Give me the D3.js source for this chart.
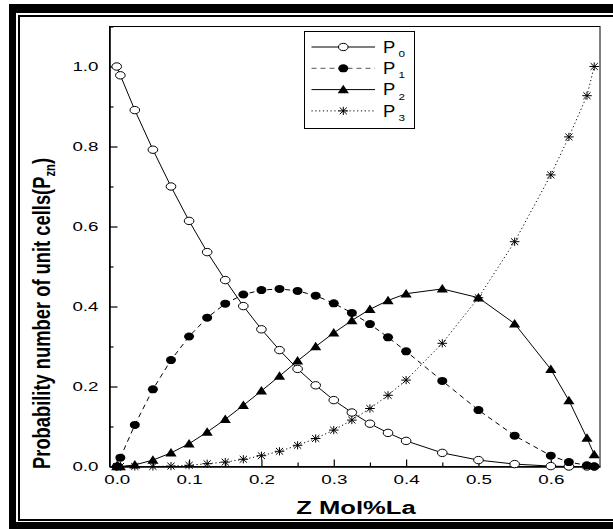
<!DOCTYPE html>
<html>
<head>
<meta charset="utf-8">
<script src="https://cdn.jsdelivr.net/npm/d3@7"></script>
<style>
  body { margin: 0; background: #fff; }
  svg { display: block; }
  text { font-family: Arial, "Liberation Sans", sans-serif; fill: #000; }
</style>
</head>
<body>
<svg id="chart" width="613" height="529"></svg>
<script>
// Lanthanum content (mol fraction) shared by all four curves
const zMol = [0, 0.005, 0.025, 0.05, 0.075, 0.1, 0.125, 0.15, 0.175, 0.2, 0.225, 0.25,
              0.275, 0.3, 0.325, 0.35, 0.375, 0.4, 0.45, 0.5, 0.55, 0.6, 0.625, 0.65, 0.66];

// Probability of unit cells holding n La ions
const p0 = [1.0, 0.978, 0.891, 0.792, 0.700, 0.614, 0.536, 0.466, 0.401, 0.343, 0.291, 0.244,
            0.203, 0.166, 0.135, 0.107, 0.084, 0.064, 0.034, 0.016, 0.006, 0.001, 0.0, 0.0, 0.0];
const p1 = [0.0, 0.022, 0.104, 0.193, 0.266, 0.325, 0.372, 0.407, 0.430, 0.441, 0.444, 0.439,
            0.427, 0.408, 0.384, 0.356, 0.323, 0.288, 0.214, 0.141, 0.077, 0.027, 0.011, 0.003, 0.0];
const p2 = [0.0, 0.0, 0.004, 0.016, 0.034, 0.057, 0.086, 0.118, 0.153, 0.189, 0.226, 0.264,
            0.300, 0.334, 0.365, 0.393, 0.415, 0.432, 0.444, 0.422, 0.357, 0.243, 0.165, 0.071, 0.030];
const p3 = [0.0, 0.0, 0.0, 0.0, 0.001, 0.003, 0.007, 0.011, 0.018, 0.027, 0.038, 0.053,
            0.070, 0.091, 0.116, 0.145, 0.178, 0.216, 0.308, 0.422, 0.562, 0.729, 0.824, 0.927, 1.0];

const seriesSubs = ["0", "1", "2", "3"];
const xMajorTicks = [0, 0.1, 0.2, 0.3, 0.4, 0.5, 0.6];
const xMinorTicks = [0.05, 0.15, 0.25, 0.35, 0.45, 0.55, 0.65];
const yMajorTicks = [0, 0.2, 0.4, 0.6, 0.8, 1.0];
const yMinorTicks = [0.1, 0.3, 0.5, 0.7, 0.9, 1.1];
const xTitle = "Z Mol%La";
const yTitle = "Probability number of unit cells(P";
const yTitleSub = "zn";

const svg = d3.select("#chart");
const W = 613, H = 529;

// widen glyphs horizontally (text is drawn wide and low)
function stretch(sel, f) {
  sel.each(function () {
    const w = this.getComputedTextLength();
    this.setAttribute("textLength", w * f);
    this.setAttribute("lengthAdjust", "spacingAndGlyphs");
  });
}

// double frame: heavy outer band, thin inner rule
const frame = svg.append("g");
frame.append("rect").attr("x", 9).attr("y", 4).attr("width", 7).attr("height", H - 4);
frame.append("rect").attr("x", 9).attr("y", 4).attr("width", W - 9).attr("height", 9);
frame.append("rect").attr("x", 9).attr("y", 522).attr("width", W - 9).attr("height", 7);
frame.append("rect").attr("x", 18).attr("y", 15).attr("width", 2).attr("height", 506);
frame.append("rect").attr("x", 18).attr("y", 15).attr("width", W - 18).attr("height", 2);
frame.append("rect").attr("x", 18).attr("y", 519).attr("width", W - 18).attr("height", 2);

const plot = { left: 109.5, right: 600, top: 26.5, bottom: 466.5 };
const x = d3.scaleLinear().domain([-0.01, 0.668]).range([plot.left, plot.right]);
const y = d3.scaleLinear().domain([0, 1.1]).range([plot.bottom, plot.top]);

// plot box
svg.append("rect")
  .attr("x", plot.left).attr("y", plot.top)
  .attr("width", plot.right - plot.left).attr("height", plot.bottom - plot.top)
  .attr("fill", "none").attr("stroke", "#000").attr("stroke-width", 1);

// axes with inward ticks
const yAxis = svg.append("g").attr("transform", `translate(${plot.left},0)`)
  .call(d3.axisLeft(y).tickValues(yMajorTicks).tickFormat(d3.format(".1f"))
    .tickSizeInner(-8).tickSizeOuter(0).tickPadding(11));
svg.append("g").attr("transform", `translate(${plot.left},0)`)
  .call(d3.axisLeft(y).tickValues(yMinorTicks).tickFormat("").tickSizeInner(-4).tickSizeOuter(0))
  .call(g => g.select(".domain").remove());

const xAxis = svg.append("g").attr("transform", `translate(0,${plot.bottom})`)
  .call(d3.axisBottom(x).tickValues(xMajorTicks).tickFormat(d3.format(".1f"))
    .tickSizeInner(-7).tickSizeOuter(0).tickPadding(8.5));
svg.append("g").attr("transform", `translate(0,${plot.bottom})`)
  .call(d3.axisBottom(x).tickValues(xMinorTicks).tickFormat("").tickSizeInner(-4).tickSizeOuter(0))
  .call(g => g.select(".domain").remove());

svg.selectAll(".tick line").attr("stroke", "#000").attr("stroke-width", 1.2);
[xAxis, yAxis].forEach(a => {
  a.select(".domain").attr("stroke", "#000").attr("stroke-width", 1.6);
  a.selectAll("text").attr("font-size", 12.5).attr("font-family", "Arial, 'Liberation Sans', sans-serif");
  stretch(a.selectAll("text"), 1.5);
});

// markers
const markers = {
  open:   g => g.append("ellipse").attr("rx", 4.8).attr("ry", 3.7).attr("fill", "#fff").attr("stroke", "#000").attr("stroke-width", 1),
  filled: g => g.append("ellipse").attr("rx", 5.0).attr("ry", 4.0).attr("fill", "#000"),
  tri:    g => g.append("path").attr("d", "M0,-4.8L5.6,3.7L-5.6,3.7Z").attr("fill", "#000"),
  star:   g => g.append("path").attr("d", "M-4.8,0H4.8M0,-4.1V4.1M-3.6,-3.4L3.6,3.4M-3.6,3.4L3.6,-3.4")
                 .attr("stroke", "#000").attr("stroke-width", 1).attr("fill", "none")
};

const series = [
  { values: p0, dash: null, marker: markers.open },
  { values: p1, dash: "5,4", marker: markers.filled },
  { values: p2, dash: null, marker: markers.tri },
  { values: p3, dash: "1.2,2.6", marker: markers.star }
];

const line = d3.line().x(d => x(d[0])).y(d => y(d[1]));

series.forEach(s => {
  const pts = zMol.map((z, i) => [z, s.values[i]]);
  svg.append("path").datum(pts)
    .attr("d", line).attr("fill", "none").attr("stroke", "#000").attr("stroke-width", 1)
    .attr("stroke-dasharray", s.dash);
  svg.append("g").selectAll("g").data(pts).join("g")
    .attr("transform", d => `translate(${x(d[0])},${y(d[1])})`)
    .each(function () { s.marker(d3.select(this)); });
});

// legend
const lg = svg.append("g");
lg.append("rect").attr("x", 304.5).attr("y", 31.5).attr("width", 110).attr("height", 97)
  .attr("fill", "#fff").attr("stroke", "#000").attr("stroke-width", 1);
series.forEach((s, i) => {
  const ry = 47 + i * 21.3;
  lg.append("line").attr("x1", 311.5).attr("x2", 375).attr("y1", ry).attr("y2", ry)
    .attr("stroke", s.dash === "5,4" ? "#555" : "#000").attr("stroke-width", 1)
    .attr("stroke-dasharray", s.dash);
  const m = lg.append("g").attr("transform", `translate(343.3,${ry})`);
  s.marker(m);
  const t = lg.append("text").attr("x", 383).attr("y", ry + 5.8).attr("font-size", 16).text("P");
  stretch(t, 1.15);
  const sb = lg.append("text").attr("x", 398.5).attr("y", ry + 10).attr("font-size", 9).text(seriesSubs[i]);
  stretch(sb, 1.3);
});

// axis titles
const xt = svg.append("text").attr("x", 356).attr("y", 514).attr("text-anchor", "middle")
  .attr("font-size", 18).attr("font-weight", "bold").text(xTitle);
stretch(xt, 1.42);

const yt = svg.append("text")
  .attr("transform", "translate(50,313.5) rotate(-90) scale(1,1.3)")
  .attr("text-anchor", "middle").attr("font-size", 18).attr("font-weight", "bold");
yt.append("tspan").text(yTitle);
yt.append("tspan").attr("dy", 4).attr("font-size", 11).text(yTitleSub);
yt.append("tspan").attr("dy", -4).text(")");
yt.attr("textLength", 311).attr("lengthAdjust", "spacingAndGlyphs");
</script>
</body>
</html>
